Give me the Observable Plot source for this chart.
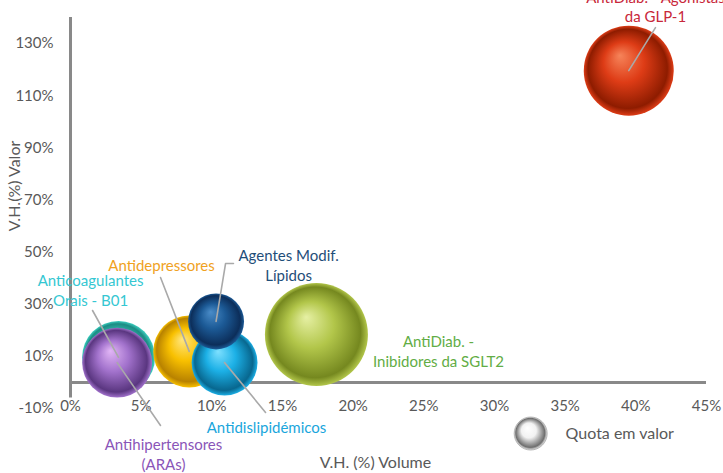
<!DOCTYPE html>
<html><head><meta charset="utf-8">
<script src="https://cdn.jsdelivr.net/npm/d3@7"></script>
<script src="https://cdn.jsdelivr.net/npm/@observablehq/plot@0.6"></script>
<style>body{margin:0;background:#fff}#chart svg{display:block}</style>
</head><body><div id="chart"></div>
<script>
// ---- data ----
const ids = ["anticoag", "aras", "antidep", "lipidos", "antidisl", "sglt2", "glp1"];
const categories = ["Anticoagulantes\nOrais - B01", "Antihipertensores\n(ARAs)", "Antidepressores", "Agentes Modif.\nLípidos", "Antidislipidémicos", "AntiDiab. -\nInibidores da SGLT2", "AntiDiab. - Agonistas\nda GLP-1"];
const volume = [3.4, 3.3, 8.4, 10.3, 10.9, 17.4, 39.5];      // V.H. (%) Volume
const valor = [9.6, 7.6, 11.9, 23.4, 7.6, 18.4, 119.6];      // V.H.(%) Valor
const quota = [3.01, 2.77, 2.93, 1.77, 2.46, 6.0, 4.58];     // Quota em valor (estimated)
const xTicks = [0, 5, 10, 15, 20, 25, 30, 35, 40, 45];
const yTicks = [-10, 10, 30, 50, 70, 90, 110, 130];
const legendLabel = "Quota em valor";

// ---- styling / annotation layout ----
const palette = {
  anticoag: ["#8af4e6", "#3ccfc0", "#1c8c84"],
  aras: ["#e2b6f6", "#a272cc", "#5a3680"],
  antidep: ["#ffe680", "#f8c000", "#b88200"],
  lipidos: ["#4a8cc8", "#1c5a96", "#0c2e5a"],
  antidisl: ["#7ee0ff", "#1cb0e6", "#08678f"],
  sglt2: ["#e6f0a4", "#b2c64a", "#75881f"],
  glp1: ["#f6845a", "#de3c16", "#8e1c00"],
  legend: ["#ffffff", "#f2f2f2", "#6e6e6e"]
};
const labelColor = {anticoag: "#35c7d2", aras: "#8a55b8", antidep: "#f0a21e", lipidos: "#1f4e79", antidisl: "#1aa6dc", sglt2: "#62ad45", glp1: "#c8283a"};
// label block centres and leader start points, in data units
const labelAt = {anticoag: [1.42, 35.6], aras: [6.58, -27.3], antidep: [6.44, 45.2], lipidos: [15.43, 45.2], antidisl: [13.87, -16.9], sglt2: [26.04, 12.2], glp1: [41.39, 144.4]};
const leaderFrom = {anticoag: [[1.56, 27.6]], aras: [[6.37, -16.5]], antidep: [[6.37, 40.25]], lipidos: [[11.53, 45.6], [10.97, 45.6]], antidisl: [[13.8, -11.5]], glp1: [[41.39, 136.1]]};

const rows = ids.map((id, i) => ({id, name: categories[i], x: volume[i], y: valor[i], q: quota[i]}));
const leaders = [];
rows.forEach(d => {
  if (!leaderFrom[d.id]) return;
  leaderFrom[d.id].forEach(p => leaders.push({id: d.id, x: p[0], y: p[1]}));
  leaders.push({id: d.id, x: d.x, y: d.y});
});
const labels = rows.map(d => ({id: d.id, name: d.name, x: labelAt[d.id][0], y: labelAt[d.id][1]}));

const font = "Lato, 'Open Sans', sans-serif";
const svg = Plot.plot({
  width: 723, height: 473,
  marginLeft: 70, marginRight: 17, marginTop: 17, marginBottom: 65,
  style: {fontFamily: font, fontSize: "15px", color: "#595959", background: "#fff"},
  x: {domain: [0, 45]},
  y: {domain: [-10, 140]},
  r: {type: "sqrt", domain: [0, 6], range: [0, 51.5]},
  marks: [
    Plot.axisY({ticks: yTicks, tickSize: 0, tickPadding: 17, tickFormat: d => d + "%", label: null, fontSize: 15, fill: "#595959"}),
    Plot.axisX({ticks: xTicks, tickSize: 0, tickPadding: -8, tickFormat: d => d + "%", label: null, fontSize: 15, fill: "#595959"}),
    Plot.ruleY([0], {x1: 0, x2: 45, stroke: "#898989", strokeWidth: 3}),
    Plot.ruleX([0], {y1: -6, y2: 140, stroke: "#898989", strokeWidth: 3}),
    Plot.dot(rows, {x: "x", y: "y", r: "q", fill: d => `url(#g-${d.id})`, stroke: "none"}),
    Plot.line(leaders, {x: "x", y: "y", z: "id", stroke: "#a9a9a9", strokeWidth: 1.6}),
    Plot.text(labels, {x: "x", y: "y", text: "name", fill: d => labelColor[d.id], fontSize: 15, lineHeight: 1.3}),
    Plot.dot([legendLabel], {x: 32.56, y: -19.6, r: 16.5, fill: "url(#g-legend)", stroke: "#8a8a8a", strokeWidth: 0.6}),
    Plot.text([legendLabel], {x: 35.03, y: -19.6, text: d => d, textAnchor: "start", fill: "#595959", fontSize: 16}),
    Plot.text(["V.H.(%) Valor"], {frameAnchor: "left", textAnchor: "middle", rotate: -90, dx: -56, dy: -27, text: d => d, fill: "#595959", fontSize: 16}),
    Plot.text(["V.H. (%) Volume"], {frameAnchor: "bottom", dx: -13, dy: 59, text: d => d, fill: "#595959", fontSize: 16})
  ]
});
const defs = d3.select(svg).insert("defs", ":first-child");
Object.entries(palette).forEach(([id, c]) => {
  const g = defs.append("radialGradient").attr("id", "g-" + id)
    .attr("cx", "0.5").attr("cy", "0.5").attr("r", "0.5").attr("fx", "0.4").attr("fy", "0.33");
  [[0, c[0]], [0.45, c[1]], [0.88, c[2]], [1, c[1]]].forEach(([o, col]) =>
    g.append("stop").attr("offset", o).attr("stop-color", col));
});
document.getElementById("chart").appendChild(svg);
</script></body></html>
